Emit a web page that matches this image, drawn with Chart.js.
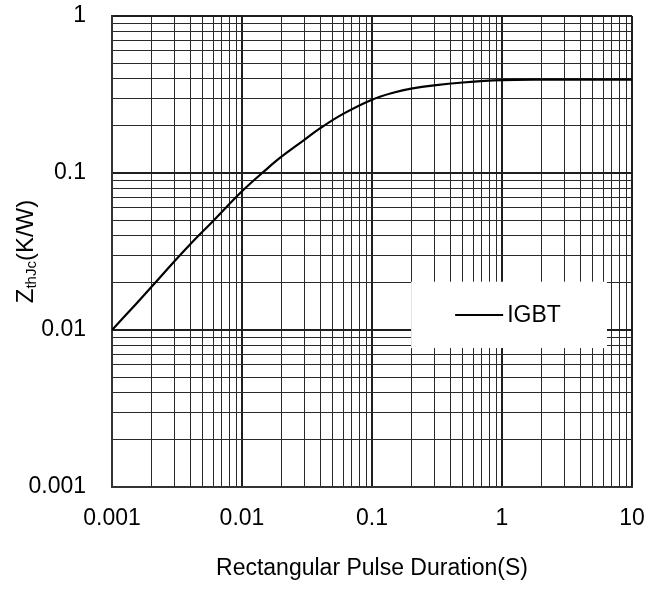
<!DOCTYPE html>
<html>
<head>
<meta charset="utf-8">
<script src="https://cdn.jsdelivr.net/npm/chart.js@4.4.1/dist/chart.umd.min.js"></script>
<style>
  html, body { margin: 0; padding: 0; background: #fff; }
  #wrap { width: 665px; height: 605px; }
</style>
</head>
<body>
<div id="wrap"><canvas id="c" width="665" height="605"></canvas></div>
<script>
// ---- data ----
const seriesName = 'IGBT';
const pulseDuration = [0.001, 0.0015, 0.002, 0.003, 0.004, 0.006, 0.01, 0.015, 0.02, 0.03, 0.04, 0.06, 0.1, 0.15, 0.2, 0.3, 0.5, 1, 2, 10];
const zthJc        = [0.0100, 0.0144, 0.0187, 0.0272, 0.0352, 0.0495, 0.0765, 0.1035, 0.1265, 0.162, 0.193, 0.238, 0.293, 0.327, 0.345, 0.362, 0.377, 0.390, 0.393, 0.393];
const xTickLabels = ['0.001', '0.01', '0.1', '1', '10'];
const yTickLabels = ['0.001', '0.01', '0.1', '1'];
const xTitle = 'Rectangular Pulse Duration(S)';
const yTitleMain = 'Z';
const yTitleSub = 'thJc';
const yTitleTail = '(K/W)';

const FONT = "'Liberation Sans', Arial, sans-serif";

function logTicks(labels) {
  const decades = labels.map(parseFloat);
  const vals = [];
  for (let i = 0; i < decades.length; i++) {
    vals.push(decades[i]);
    if (i < decades.length - 1) {
      for (let m = 2; m <= 9; m++) vals.push(parseFloat((decades[i] * m).toPrecision(6)));
    }
  }
  return vals;
}
function isDecade(v, labels) {
  return labels.some(l => Math.abs(parseFloat(l) - v) < parseFloat(l) * 1e-6);
}
function labelFor(v, labels) {
  const f = labels.find(l => Math.abs(parseFloat(l) - v) < parseFloat(l) * 1e-6);
  return f === undefined ? '' : f;
}

const xTickVals = logTicks(xTickLabels);
const yTickVals = logTicks(yTickLabels);

const gridStyle = (labels) => ({
  drawTicks: false,
  color: (ctx) => (ctx.tick && isDecade(ctx.tick.value, labels)) ? '#1e1e1e' : '#2a2a2a',
  lineWidth: (ctx) => (ctx.tick && isDecade(ctx.tick.value, labels)) ? 2 : 1
});

const yTitlePlugin = {
  id: 'yTitle',
  afterDraw(chart) {
    const ctx = chart.ctx;
    const mainF = '24px ' + FONT;
    const subF = '15px ' + FONT;
    ctx.save();
    ctx.font = mainF; const w1 = ctx.measureText(yTitleMain).width;
    const w3 = ctx.measureText(yTitleTail).width;
    ctx.font = subF; const w2 = ctx.measureText(yTitleSub).width;
    const total = w1 + w2 + w3;
    const cy = (chart.chartArea.top + chart.chartArea.bottom) / 2;
    ctx.translate(33, cy);
    ctx.rotate(-Math.PI / 2);
    ctx.fillStyle = '#000';
    ctx.textBaseline = 'alphabetic';
    ctx.textAlign = 'left';
    let x = -total / 2;
    ctx.font = mainF; ctx.fillText(yTitleMain, x, 0); x += w1;
    ctx.font = subF; ctx.fillText(yTitleSub, x, 3); x += w2;
    ctx.font = mainF; ctx.fillText(yTitleTail, x, 0);
    ctx.restore();
  }
};

const legendPlugin = {
  id: 'boxLegend',
  afterDatasetsDraw(chart) {
    const ctx = chart.ctx;
    const xs = chart.scales.x, ys = chart.scales.y;
    const left = xs.getPixelForValue(0.2);
    const right = xs.right - 25;
    const top = ys.getPixelForValue(0.0203);
    const bottom = ys.getPixelForValue(0.00767);
    ctx.save();
    ctx.fillStyle = '#fff';
    ctx.fillRect(left, top, right - left, bottom - top);
    const ds = chart.data.datasets[0];
    const midY = (top + bottom) / 2;
    ctx.strokeStyle = ds.borderColor;
    ctx.lineWidth = 2;
    ctx.beginPath();
    ctx.moveTo(left + 44, midY);
    ctx.lineTo(left + 92, midY);
    ctx.stroke();
    ctx.fillStyle = '#000';
    ctx.font = '23px ' + FONT;
    ctx.textBaseline = 'middle';
    ctx.textAlign = 'left';
    ctx.fillText(ds.label, left + 96, midY + 1);
    ctx.restore();
  }
};

new Chart(document.getElementById('c'), {
  type: 'line',
  data: {
    datasets: [{
      label: seriesName,
      data: pulseDuration.map((t, i) => ({ x: t, y: zthJc[i] })),
      borderColor: '#000',
      borderWidth: 2.2,
      pointRadius: 0,
      fill: false,
      tension: 0.4
    }]
  },
  options: {
    responsive: false,
    animation: false,
    devicePixelRatio: 1,
    layout: { padding: { top: 16, right: 33, left: 0, bottom: 0 } },
    plugins: { legend: { display: false }, tooltip: { enabled: false } },
    scales: {
      x: {
        type: 'logarithmic',
        min: parseFloat(xTickLabels[0]),
        max: parseFloat(xTickLabels[xTickLabels.length - 1]),
        afterBuildTicks: (s) => { s.ticks = xTickVals.map(v => ({ value: v })); },
        afterFit: (s) => { s.height = 118; s.paddingLeft = 0; s.paddingRight = 0; s.paddingTop = 0; s.paddingBottom = 0; },
        ticks: {
          autoSkip: false, maxRotation: 0, minRotation: 0, padding: 18,
          color: '#000', font: { family: FONT, size: 23 },
          callback: (v) => labelFor(v, xTickLabels)
        },
        grid: gridStyle(xTickLabels),
        border: { display: true, color: '#333', width: 2 },
        title: {
          display: true, text: xTitle, color: '#000',
          font: { family: FONT, size: 23 },
          padding: { top: 0, bottom: 23 }
        }
      },
      y: {
        type: 'logarithmic',
        min: parseFloat(yTickLabels[0]),
        max: parseFloat(yTickLabels[yTickLabels.length - 1]),
        afterBuildTicks: (s) => { s.ticks = yTickVals.map(v => ({ value: v })); },
        afterFit: (s) => { s.width = 112; s.paddingLeft = 0; s.paddingRight = 0; s.paddingTop = 0; s.paddingBottom = 0; },
        ticks: {
          autoSkip: false, padding: 26,
          color: '#000', font: { family: FONT, size: 23 },
          callback: (v) => labelFor(v, yTickLabels)
        },
        grid: gridStyle(yTickLabels),
        border: { display: true, color: '#333', width: 2 }
      }
    }
  },
  plugins: [yTitlePlugin, legendPlugin]
});
</script>
</body>
</html>
